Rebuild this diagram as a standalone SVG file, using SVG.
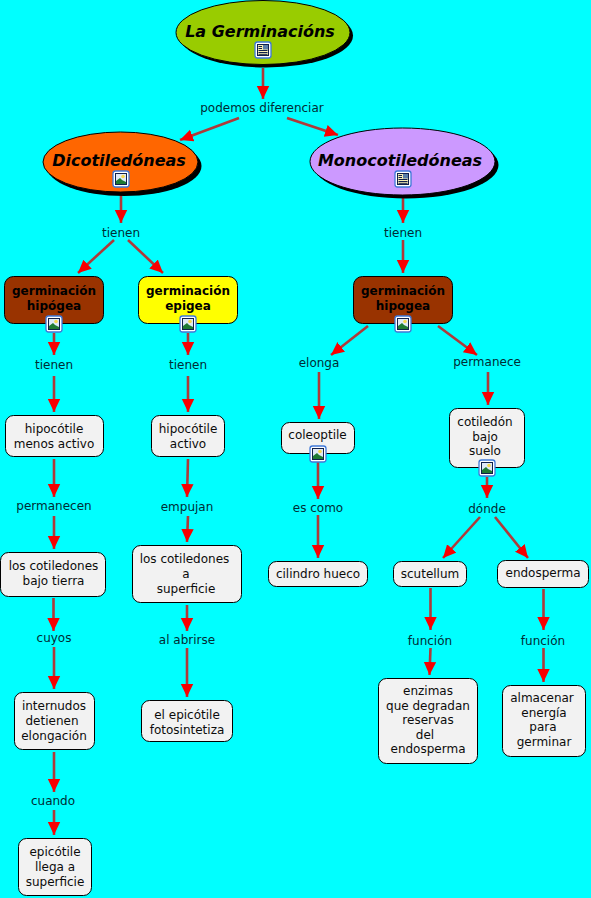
<svg xmlns="http://www.w3.org/2000/svg" width="591" height="898" viewBox="0 0 591 898">
<style>
text{font-family:"DejaVu Sans",Verdana,sans-serif;font-size:12px;fill:#0c0c0c;text-anchor:middle}
.t{font-weight:bold;font-style:italic;font-size:16px;fill:#000}
.b{font-weight:bold;fill:#000}
.l{fill:#002c34}
.n{fill:#f2f2f2;stroke:#000;stroke-width:1}
.s{fill:#000}
.e{stroke:#000;stroke-width:1}
.c{stroke:#ae3a3a;stroke-width:2.6;fill:none;marker-end:url(#a)}
</style>
<defs>
<marker id="a" markerUnits="userSpaceOnUse" markerWidth="14" markerHeight="14" refX="13" refY="6.5" orient="auto"><path d="M0 0.300L13 6.500L0 12.700Z" fill="#f80000"/></marker>
<g id="pic"><rect x="-8" y="-8" width="16" height="16" rx="2.500" fill="#fff" stroke="#3f78d8" stroke-width="1.300"/><rect x="-5.500" y="-5.500" width="11" height="11" fill="#dfe9f7" stroke="#10204a" stroke-width="1"/><circle cx="2" cy="-2.500" r="1.800" fill="#f6d84e"/><path d="M-5 5V2L-1 -1L1 1L5 3V5Z" fill="#1f7a33"/></g>
<g id="doc"><rect x="-8" y="-8" width="16" height="16" rx="2.500" fill="#fff" stroke="#3f78d8" stroke-width="1.300"/><rect x="-5.500" y="-5.500" width="11" height="11" fill="#f6efb4" stroke="#10204a" stroke-width="1"/><rect x="0" y="-5" width="5" height="4.500" fill="#5a7fa8"/><path d="M-4.500 -3.500H-1M-4.500 -1.500H-1M-4.500 .5H4.500M-4.500 2.500H4.500M-4.500 4.300H4.500" stroke="#10204a" stroke-width="1" fill="none"/></g>
</defs>
<rect width="591" height="898" fill="#00ffff"/>
<g id="connectors">
<path class="c" d="M263 68V99"/>
<path class="c" d="M239 118L180 140"/>
<path class="c" d="M287 118L338 135"/>
<path class="c" d="M121 195V223"/>
<path class="c" d="M403 197V223"/>
<path class="c" d="M403 240V273"/>
<path class="c" d="M114 240L78 273"/>
<path class="c" d="M128 240L163 273"/>
<path class="c" d="M368 326L331 355"/>
<path class="c" d="M438 326L477 355"/>
<path class="c" d="M54 333V355"/>
<path class="c" d="M188 333V355"/>
<path class="c" d="M54 376V412"/>
<path class="c" d="M188 376V412"/>
<path class="c" d="M54 459V497"/>
<path class="c" d="M188 459L187 497"/>
<path class="c" d="M54 516V549"/>
<path class="c" d="M188 516L187 542"/>
<path class="c" d="M53.500 598V631"/>
<path class="c" d="M187 605V631"/>
<path class="c" d="M54 647V689"/>
<path class="c" d="M187 648V697"/>
<path class="c" d="M54 752V792"/>
<path class="c" d="M54 810V835"/>
<path class="c" d="M319 372V419"/>
<path class="c" d="M488 372V405"/>
<path class="c" d="M318 462V499"/>
<path class="c" d="M318 515V558"/>
<path class="c" d="M487 477V498"/>
<path class="c" d="M480 517L443 558"/>
<path class="c" d="M495 517L528 558"/>
<path class="c" d="M430.500 588V630"/>
<path class="c" d="M430.500 648L429.500 675"/>
<path class="c" d="M543.500 589V630"/>
<path class="c" d="M543.500 648V682"/>
</g>
<g id="root"><ellipse class="s" cx="266" cy="35.500" rx="87" ry="32"/><ellipse class="e" cx="263" cy="32.500" rx="87" ry="32" fill="#99cc00"/><text class="t" x="260" y="37">La Germinacións</text><use href="#doc" x="263" y="50"/></g>
<g id="dicot"><ellipse class="s" cx="124" cy="166" rx="77.500" ry="30"/><ellipse class="e" cx="120.500" cy="162" rx="77.500" ry="30" fill="#ff6600"/><text class="t" x="119" y="166">Dicotiledóneas</text><use href="#pic" x="121" y="179"/></g>
<g id="mono"><ellipse class="s" cx="406" cy="165" rx="92.500" ry="33.500"/><ellipse class="e" cx="402.500" cy="161.500" rx="92.500" ry="33.500" fill="#cc99ff"/><text class="t" x="400" y="166">Monocotiledóneas</text><use href="#doc" x="403" y="179"/></g>
<g id="l1"><text class="l" x="262" y="112">podemos diferenciar</text></g>
<g id="l2"><text class="l" x="121" y="237">tienen</text></g>
<g id="l3"><text class="l" x="403" y="237">tienen</text></g>
<g id="hipogea1"><rect x="4.500" y="276.500" width="99" height="47" rx="9" fill="#993300" stroke="#000"/><text class="b" x="54" y="295">germinación</text><text class="b" x="54" y="310">hipógea</text><use href="#pic" x="54" y="324"/></g>
<g id="epigea"><rect x="138.500" y="276.500" width="99" height="47" rx="9" fill="#ffff00" stroke="#000"/><text class="b" x="188" y="295">germinación</text><text class="b" x="188" y="310">epigea</text><use href="#pic" x="188" y="324"/></g>
<g id="hipogea2"><rect x="353.500" y="276.500" width="99" height="47" rx="9" fill="#993300" stroke="#000"/><text class="b" x="403" y="295">germinación</text><text class="b" x="403" y="310">hipogea</text><use href="#pic" x="403" y="324"/></g>
<g id="l4"><text class="l" x="54" y="369">tienen</text></g>
<g id="l5"><text class="l" x="188" y="369">tienen</text></g>
<g id="l6"><text class="l" x="319" y="367">elonga</text></g>
<g id="l7"><text class="l" x="487" y="366">permanece</text></g>
<g id="n1"><rect class="n" x="5.500" y="415.500" width="98" height="41" rx="8"/><text x="54" y="433">hipocótile</text><text x="54" y="448">menos activo</text></g>
<g id="n2"><rect class="n" x="151.500" y="415.500" width="73" height="41" rx="8"/><text x="188" y="433">hipocótile</text><text x="188" y="448">activo</text></g>
<g id="n3"><rect class="n" x="281.500" y="422.500" width="73" height="31" rx="8"/><text x="317.500" y="439">coleoptile</text><use href="#pic" x="318" y="454"/></g>
<g id="n4"><rect class="n" x="449.500" y="408.500" width="75" height="59" rx="8"/><text x="485" y="426">cotiledón</text><text x="485" y="441">bajo</text><text x="485" y="455">suelo</text><use href="#pic" x="487" y="468"/></g>
<g id="l8"><text class="l" x="54" y="510">permanecen</text></g>
<g id="l9"><text class="l" x="187" y="511">empujan</text></g>
<g id="l10"><text class="l" x="318" y="512">es como</text></g>
<g id="l11"><text class="l" x="487" y="513">dónde</text></g>
<g id="n5"><rect class="n" x="0.500" y="552.500" width="105" height="44" rx="8"/><text x="53.500" y="570">los cotiledones</text><text x="53.500" y="585">bajo tierra</text></g>
<g id="n6"><rect class="n" x="132.500" y="545.500" width="109" height="57" rx="8"/><text x="184.500" y="563">los cotiledones</text><text x="186" y="578">a</text><text x="186" y="593">superficie</text></g>
<g id="n7"><rect class="n" x="268.500" y="561.500" width="99" height="25" rx="8"/><text x="318" y="578">cilindro hueco</text></g>
<g id="n8"><rect class="n" x="393.500" y="561.500" width="73" height="25" rx="8"/><text x="430" y="578">scutellum</text></g>
<g id="n9"><rect class="n" x="497.500" y="560.500" width="91" height="27" rx="8"/><text x="543" y="577">endosperma</text></g>
<g id="l12"><text class="l" x="54" y="642">cuyos</text></g>
<g id="l13"><text class="l" x="187" y="644">al abrirse</text></g>
<g id="l14"><text class="l" x="430" y="645">función</text></g>
<g id="l15"><text class="l" x="543" y="645">función</text></g>
<g id="n10"><rect class="n" x="14.500" y="692.500" width="80" height="57" rx="8"/><text x="54" y="710">internudos</text><text x="52" y="725">detienen</text><text x="54" y="740">elongación</text></g>
<g id="n11"><rect class="n" x="141.500" y="700.500" width="91" height="41" rx="8"/><text x="187" y="719">el epicótile</text><text x="187" y="734">fotosintetiza</text></g>
<g id="n12"><rect class="n" x="378.500" y="678.500" width="99" height="85" rx="8"/><text x="428" y="695">enzimas</text><text x="428" y="710">que degradan</text><text x="428" y="724">reservas</text><text x="425" y="739">del</text><text x="428" y="753">endosperma</text></g>
<g id="n13"><rect class="n" x="502.500" y="685.500" width="83" height="71" rx="8"/><text x="542" y="702">almacenar</text><text x="544" y="717">energía</text><text x="543" y="731">para</text><text x="544" y="746">germinar</text></g>
<g id="l16"><text class="l" x="53" y="805">cuando</text></g>
<g id="n14"><rect class="n" x="18.500" y="838.500" width="73" height="57" rx="8"/><text x="55" y="856">epicótile</text><text x="55" y="871">llega a</text><text x="55" y="886">superficie</text></g>
</svg>
